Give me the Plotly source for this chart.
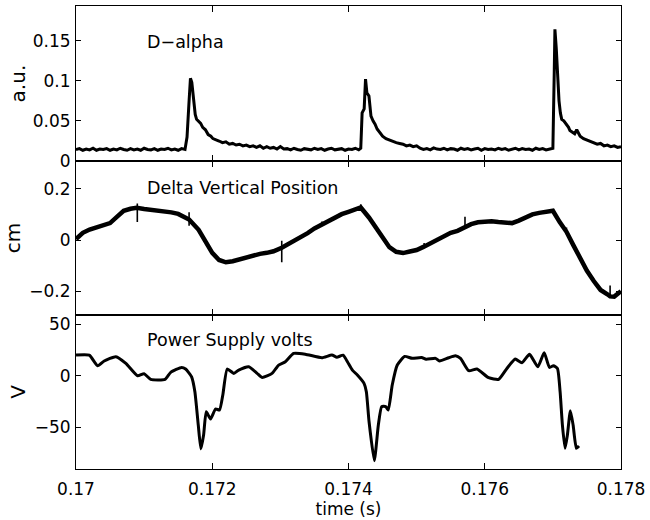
import plotly.graph_objects as go

# ---------------- data ----------------
# Panel 1: D-alpha (a.u.)
dalpha_time = [
    0.17000,0.17005,0.17010,0.17015,0.17020,0.17025,0.17030,0.17035,0.17040,0.17045,
    0.17050,0.17055,0.17060,0.17065,0.17070,0.17075,0.17080,0.17085,0.17090,0.17095,
    0.17100,0.17105,0.17110,0.17115,0.17120,0.17125,0.17130,0.17135,0.17140,0.17145,
    0.17150,0.17155,0.17160,
    0.17163,0.17166,0.17168,0.17170,0.17172,0.17175,0.17177,0.17180,0.17183,0.17186,
    0.17190,0.17194,0.17198,0.17201,0.17205,0.17210,0.17215,0.17220,0.17225,0.17230,
    0.17235,0.17240,0.17245,0.17250,0.17255,0.17260,0.17265,0.17270,0.17275,0.17280,
    0.17285,0.17290,0.17295,0.17300,
    0.17305,0.17310,0.17315,0.17320,0.17325,0.17330,0.17335,0.17340,0.17345,0.17350,
    0.17355,0.17360,0.17365,0.17370,0.17375,0.17380,0.17385,0.17390,0.17395,0.17400,
    0.17405,0.17410,0.17415,
    0.17418,0.17420,0.17423,0.17425,0.17427,0.17430,0.17433,0.17436,0.17439,0.17442,
    0.17445,0.17450,0.17455,0.17460,0.17465,0.17470,0.17475,0.17480,0.17485,0.17490,
    0.17495,0.17500,
    0.17505,0.17510,0.17515,0.17520,0.17525,0.17530,0.17535,0.17540,0.17545,0.17550,
    0.17555,0.17560,0.17565,0.17570,0.17575,0.17580,0.17585,0.17590,0.17595,0.17600,
    0.17605,0.17610,0.17615,0.17620,0.17625,0.17630,0.17635,0.17640,0.17645,0.17650,
    0.17655,0.17660,0.17665,0.17670,0.17675,0.17680,0.17685,0.17690,0.17695,
    0.17700,0.17702,0.17703,0.17705,0.17707,0.17709,0.17711,0.17713,0.17716,0.17720,
    0.17723,0.17725,0.17729,0.17732,0.17735,0.17738,0.17740,0.17745,0.17750,0.17755,
    0.17760,0.17765,0.17770,0.17775,0.17780,0.17785,0.17790,0.17795,0.17800,
]
dalpha_value = [
    0.0145,0.0155,0.0135,0.015,0.014,0.016,0.0135,0.015,0.0145,0.0155,
    0.0135,0.015,0.014,0.016,0.0145,0.0135,0.0155,0.014,0.015,0.0135,
    0.016,0.0145,0.014,0.0155,0.0135,0.015,0.0145,0.016,0.014,0.015,
    0.0135,0.0155,0.0145,
    0.030,0.075,0.103,0.098,0.078,0.058,0.052,0.049,0.047,0.042,
    0.039,0.033,0.031,0.028,0.027,0.025,0.023,0.024,0.021,0.022,
    0.020,0.021,0.019,0.020,0.018,0.019,0.017,0.019,0.016,0.018,
    0.016,0.017,0.015,0.018,
    0.015,0.0155,0.014,0.016,0.0145,0.0135,0.0155,0.015,0.014,0.016,
    0.0145,0.0155,0.0135,0.015,0.016,0.014,0.0145,0.0155,0.0135,0.015,
    0.0145,0.016,0.014,
    0.016,0.060,0.065,0.102,0.085,0.081,0.056,0.050,0.046,0.040,
    0.036,0.031,0.028,0.026,0.024,0.023,0.022,0.021,0.019,0.020,
    0.018,0.019,
    0.016,0.0145,0.0155,0.014,0.0165,0.015,0.0145,0.016,0.014,0.0155,
    0.015,0.0135,0.016,0.0145,0.0155,0.014,0.015,0.016,0.0135,0.0155,
    0.0145,0.015,0.014,0.016,0.0145,0.0155,0.0135,0.015,0.016,0.014,
    0.0155,0.0145,0.015,0.0135,0.016,0.0145,0.0155,0.014,0.015,
    0.016,0.110,0.164,0.140,0.104,0.075,0.060,0.052,0.050,0.046,
    0.042,0.038,0.036,0.034,0.039,0.033,0.031,0.028,0.026,0.024,
    0.022,0.021,0.022,0.019,0.020,0.018,0.019,0.017,0.018,
]

# Panel 2: Delta vertical position (cm)
position_time = [
    0.17000,0.17010,0.17020,0.17030,0.17040,0.17050,0.17060,0.17070,0.17080,0.17089,
    0.17100,0.17110,0.17120,0.17130,0.17140,0.17150,0.17160,0.17166,0.17180,0.17190,
    0.17200,0.17210,0.17220,0.17230,0.17240,0.17250,0.17260,0.17270,0.17280,0.17290,
    0.17302,0.17310,0.17320,0.17330,0.17340,0.17350,0.17360,0.17370,0.17380,0.17390,
    0.17400,0.17410,0.17418,0.17430,0.17440,0.17450,0.17460,0.17470,0.17480,0.17490,
    0.17500,0.17510,0.17520,0.17530,0.17540,0.17550,0.17560,0.17570,0.17580,0.17590,
    0.17600,0.17610,0.17620,0.17630,0.17640,0.17650,0.17660,0.17670,0.17680,0.17690,
    0.17700,0.17710,0.17720,0.17730,0.17740,0.17750,0.17760,0.17770,0.17780,0.17784,
    0.17790,0.17800,
]
position_value = [
    0.004,0.028,0.041,0.048,0.056,0.066,0.090,0.114,0.122,0.126,
    0.121,0.118,0.116,0.113,0.108,0.102,0.090,0.080,0.040,-0.005,
    -0.050,-0.078,-0.087,-0.083,-0.076,-0.066,-0.058,-0.054,-0.050,-0.044,
    -0.030,-0.018,-0.005,0.009,0.027,0.045,0.060,0.075,0.089,0.101,
    0.110,0.121,0.127,0.088,0.050,0.008,-0.028,-0.046,-0.051,-0.045,
    -0.039,-0.027,-0.013,0.001,0.014,0.028,0.036,0.050,0.062,0.069,
    0.072,0.073,0.070,0.066,0.066,0.076,0.088,0.100,0.106,0.110,
    0.114,0.070,0.032,-0.020,-0.070,-0.120,-0.160,-0.195,-0.212,-0.220,
    -0.221,-0.200,
]
# short glitches on the position trace (time, top, bottom)
glitch_time = [0.17090, 0.17166, 0.17302, 0.17361, 0.17418, 0.17511, 0.17571, 0.17720, 0.17784]
glitch_top = [0.143, 0.108, -0.003, 0.072, 0.140, -0.012, 0.091, 0.049, -0.178]
glitch_bottom = [0.070, 0.056, -0.087, 0.055, 0.120, -0.030, 0.052, 0.023, -0.222]

# Panel 3: Power supply volts (V)
volts_time = [
    0.170000,0.170195,0.170317,0.170414,0.170585,0.170732,0.170903,0.170999,0.171097,0.171307,
    0.171390,0.171551,0.171609,0.171697,0.171745,0.171795,0.171833,0.171873,0.171912,0.171975,
    0.172048,0.172107,0.172155,0.172220,0.172316,0.172389,0.172536,0.172658,0.172732,0.172878,
    0.172975,0.173073,0.173194,0.173365,0.173609,0.173756,0.173829,0.173921,0.173984,0.174057,
    0.174130,0.174228,0.174262,0.174302,0.174379,0.174438,0.174487,0.174546,0.174584,0.174642,
    0.174716,0.174824,0.174935,0.175073,0.175140,0.175278,0.175336,0.175472,0.175570,0.175644,
    0.175765,0.175886,0.176057,0.176204,0.176325,0.176448,0.176545,0.176657,0.176779,0.176872,
    0.176950,0.177008,0.177067,0.177106,0.177140,0.177179,0.177213,0.177257,0.177297,0.177345,
    0.177384,
]
volts_value = [
    20.1,20.0,9.7,14.3,18.5,12.0,0.0,2.0,-3.5,-3.5,
    3.3,8.1,6.5,-1.0,-15.5,-48.0,-71.0,-57.6,-35.0,-42.0,
    -32.3,-33.3,-18.7,6.5,2.3,5.5,8.7,2.3,-1.6,2.3,
    10.4,13.6,21.7,21.0,17.5,20.1,18.0,20.0,13.6,5.5,
    0.7,-7.4,-15.5,-44.7,-82.5,-47.9,-30.0,-30.0,-33.3,-9.0,
    10.4,18.8,16.9,17.8,16.0,16.9,14.3,17.5,19.4,16.9,
    4.9,6.5,-1.9,-3.5,7.1,16.2,12.6,20.8,8.7,22.4,
    8.1,9.7,7.1,-15.5,-47.9,-70.5,-57.6,-34.0,-47.9,-70.5,
    -68.3,
]

x_tickvals = [0.170, 0.172, 0.174, 0.176, 0.178]
x_ticktext = ["0.17", "0.172", "0.174", "0.176", "0.178"]
y1_tickvals = [0, 0.05, 0.1, 0.15]
y1_ticktext = ["0", "0.05", "0.1", "0.15"]
y2_tickvals = [-0.2, 0, 0.2]
y2_ticktext = ["\u22120.2", "0", "0.2"]
y3_tickvals = [-50, 0, 50]
y3_ticktext = ["\u221250", "0", "50"]

panel_titles = ["D\u2212alpha", "Delta Vertical Position", "Power Supply volts"]
y_titles = ["a.u.", "cm", "V"]

# ---------------- figure ----------------
FONT = "DejaVu Sans, Arial, sans-serif"
fig = go.Figure()
fig.add_trace(go.Scatter(x=dalpha_time, y=dalpha_value, mode="lines",
                         line=dict(color="black", width=3), xaxis="x", yaxis="y",
                         showlegend=False))
fig.add_trace(go.Scatter(x=position_time, y=position_value, mode="lines",
                         line=dict(color="black", width=4.5), xaxis="x2", yaxis="y2",
                         showlegend=False))
gx, gy = [], []
for t, hi, lo in zip(glitch_time, glitch_top, glitch_bottom):
    gx += [t, t, None]
    gy += [hi, lo, None]
fig.add_trace(go.Scatter(x=gx, y=gy, mode="lines", connectgaps=False,
                         line=dict(color="black", width=1.6), xaxis="x2", yaxis="y2",
                         showlegend=False))
fig.add_trace(go.Scatter(x=volts_time, y=volts_value, mode="lines",
                         line=dict(color="black", width=3, shape="spline", smoothing=0.5),
                         xaxis="x3", yaxis="y3", showlegend=False))

xcommon = dict(range=[0.170, 0.178], tickvals=x_tickvals, ticktext=x_ticktext,
               ticks="inside", ticklen=6, tickcolor="black", showline=True,
               linecolor="black", linewidth=1, mirror="ticks", showgrid=False,
               zeroline=False, tickfont=dict(family=FONT, size=17, color="black"))
ycommon = dict(ticks="inside", ticklen=5, tickcolor="black", showline=True,
               linecolor="black", linewidth=1, mirror="ticks", showgrid=False,
               zeroline=False, tickfont=dict(family=FONT, size=17, color="black"),
               ticklabelstandoff=1)

fig.update_layout(
    width=650, height=520,
    margin=dict(l=76, r=27, t=5, b=51),
    paper_bgcolor="white", plot_bgcolor="white",
    font=dict(family=FONT, size=17, color="black"),
    xaxis=dict(xcommon, anchor="y", domain=[0, 1], showticklabels=False),
    xaxis2=dict(xcommon, anchor="y2", domain=[0, 1], showticklabels=False, matches="x"),
    xaxis3=dict(xcommon, anchor="y3", domain=[0, 1], matches="x", ticklabelstandoff=5,
                title=dict(text="time (s)", font=dict(family=FONT, size=17), standoff=1)),
    yaxis=dict(ycommon, anchor="x", domain=[0.665, 1.0], range=[0, 0.193],
               tickvals=y1_tickvals, ticktext=y1_ticktext,
               title=dict(text=y_titles[0], standoff=1)),
    yaxis2=dict(ycommon, anchor="x2", domain=[0.333, 0.665], range=[-0.292, 0.308],
                tickvals=y2_tickvals, ticktext=y2_ticktext,
                title=dict(text=y_titles[1], standoff=3)),
    yaxis3=dict(ycommon, anchor="x3", domain=[0, 0.333], range=[-90.6, 59.2],
                tickvals=y3_tickvals, ticktext=y3_ticktext,
                title=dict(text=y_titles[2], standoff=3)),
)

ann_y = [0.148, 0.204, 34.7]
for i, (txt, yv) in enumerate(zip(panel_titles, ann_y)):
    sfx = "" if i == 0 else str(i + 1)
    fig.add_annotation(x=0.17101, y=yv, xref="x" + sfx, yref="y" + sfx,
                       text=txt, showarrow=False, xanchor="left", yanchor="middle",
                       font=dict(family=FONT, size=17.5, color="black"))

fig.write_html("out.html", config={"displayModeBar": False},
               post_script="document.body.style.margin='0px';")
